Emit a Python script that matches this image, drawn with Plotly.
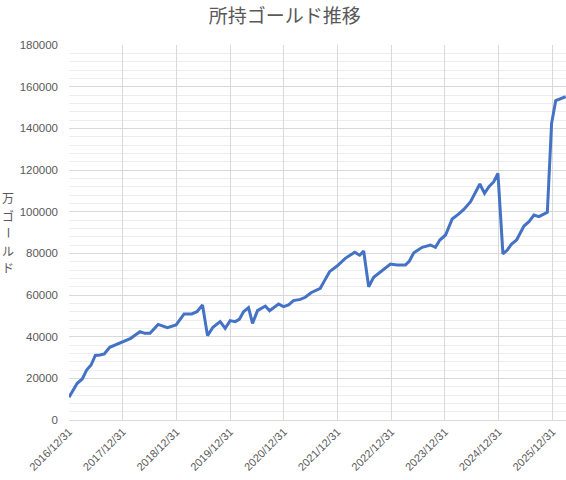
import plotly.graph_objects as go

# 所持ゴールドの推移 (読み取り値)
dates = [
    "2016-12-31", "2017-02-25", "2017-03-31", "2017-04-30", "2017-05-30",
    "2017-06-28", "2017-07-31", "2017-08-28", "2017-10-04", "2017-11-09",
    "2017-12-29", "2018-02-24", "2018-03-27", "2018-04-28", "2018-05-30",
    "2018-07-05", "2018-08-29", "2018-10-31", "2018-12-29", "2019-02-22",
    "2019-04-15", "2019-05-20", "2019-06-27", "2019-07-31", "2019-09-06",
    "2019-10-25", "2019-11-28", "2020-01-01", "2020-02-04", "2020-03-03",
    "2020-04-01", "2020-05-05", "2020-06-01", "2020-07-05", "2020-08-27",
    "2020-09-25", "2020-11-25", "2020-12-29", "2021-02-01", "2021-03-07",
    "2021-04-22", "2021-05-26", "2021-07-04", "2021-09-05", "2021-10-04",
    "2021-11-07", "2021-12-28", "2022-02-22", "2022-04-27", "2022-05-31",
    "2022-06-27", "2022-07-31", "2022-09-03", "2022-10-30", "2022-12-26",
    "2023-02-09", "2023-04-07", "2023-05-04", "2023-06-03", "2023-07-30",
    "2023-09-24", "2023-10-28", "2023-11-27", "2024-01-05", "2024-02-19",
    "2024-04-04", "2024-05-08", "2024-06-23", "2024-07-27", "2024-08-25",
    "2024-09-26", "2024-10-26", "2024-11-28", "2024-12-26", "2025-01-29",
    "2025-02-28", "2025-03-27", "2025-05-02", "2025-06-21", "2025-07-25",
    "2025-08-28", "2025-10-01", "2025-11-27", "2025-12-26", "2026-01-23",
    "2026-04-01",
]
gold = [
    10900, 17600, 19700, 24000, 26400,
    31000, 31200, 31700, 34900, 36000,
    37800, 39200, 40800, 42400, 41600,
    41600, 45900, 44300, 45600, 50900,
    50900, 52000, 55200, 40500, 44500,
    47200, 44000, 47700, 47200, 48300,
    52000, 53900, 46400, 52500, 54700,
    52500, 55700, 54400, 55200, 57300,
    57900, 58900, 61100, 63200, 66900,
    71200, 73900, 77600, 80500, 79100,
    81100, 64000, 68500, 71700, 74900,
    74400, 74400, 76300, 80300, 82900,
    84000, 82900, 86400, 88800, 96500,
    98900, 101100, 104800, 109100, 113300,
    108800, 112000, 114400, 118400, 79700,
    81600, 84300, 86400, 93100, 95200,
    98400, 97600, 99700, 142400, 153300,
    155200,
]

x_ticks = ["2016-12-31", "2017-12-31", "2018-12-31", "2019-12-31", "2020-12-31",
           "2021-12-31", "2022-12-31", "2023-12-31", "2024-12-31", "2025-12-31"]

title = "所持ゴールド推移"
y_title = "万ゴールド"

grey = "#595959"
font_jp = "Noto Sans CJK JP"

fig = go.Figure()
fig.add_trace(go.Scatter(
    x=dates, y=gold, mode="lines",
    line=dict(color="#4472C4", width=3),
    showlegend=False,
))

fig.update_layout(
    width=566, height=480,
    margin=dict(l=69, r=0, t=45, b=60, autoexpand=False),
    paper_bgcolor="white", plot_bgcolor="white",
    font=dict(family=font_jp, color=grey, size=11),
    title=dict(text=title, x=0.503, xanchor="center", y=0.98, yanchor="top",
               font=dict(family=font_jp, size=19, color=grey)),
)

fig.update_xaxes(
    type="date", automargin=False,
    range=["2016-12-31", "2026-04-03"],
    tickvals=x_ticks, tickformat="%Y/%m/%d", tickangle=-45,
    showgrid=True, gridcolor="#d9d9d9", gridwidth=1,
    showline=True, linecolor="#d9d9d9", linewidth=1,
    ticks="", zeroline=False,
    tickfont=dict(family="Liberation Sans", size=11, color=grey),
)
fig.update_yaxes(
    automargin=False,
    range=[0, 180000], dtick=20000, tickformat="d",
    showgrid=True, gridcolor="#d9d9d9", gridwidth=1,
    minor=dict(dtick=4000, showgrid=True, gridcolor="#ededed", gridwidth=1),
    zeroline=False, showline=False, ticks="",
    ticklabelstandoff=10,
    tickfont=dict(family="Liberation Sans", size=11.5, color=grey),
)

# 縦書きの軸タイトル (長音は縦向きに回転)
for i, ch in enumerate(y_title):
    fig.add_annotation(
        text=ch, xref="paper", yref="paper",
        x=-0.123, xanchor="center",
        y=0.593 - i * 0.0467, yanchor="middle",
        showarrow=False, textangle=90 if ch == "ー" else 0,
        font=dict(family=font_jp, size=12, color=grey),
    )

# ページ既定の余白を外して 566x480 にぴったり収める
fig.write_html("out.html", config={"displayModeBar": False},
               post_script="document.body.style.margin='0';")
